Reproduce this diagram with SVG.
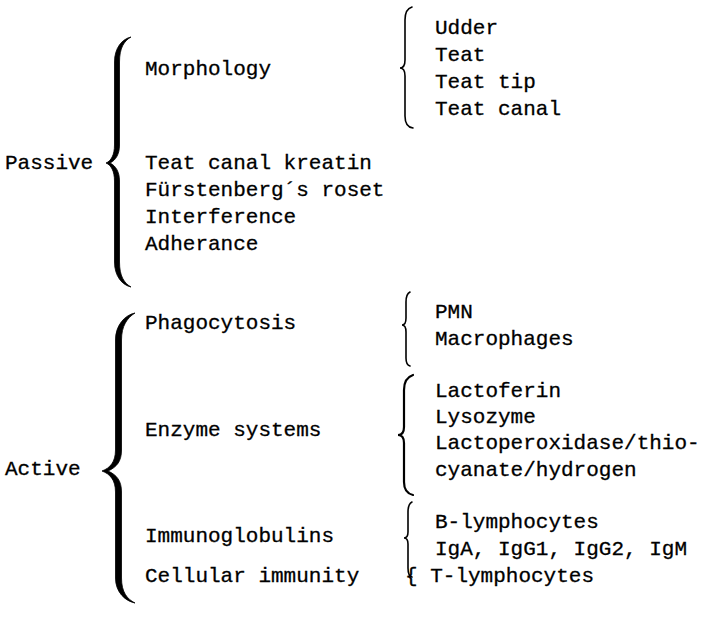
<svg xmlns="http://www.w3.org/2000/svg" width="703" height="624" viewBox="0 0 703 624">
<style>
text{font-family:"Liberation Mono","Courier New",monospace;font-size:21px;fill:#000;stroke:#000;stroke-width:0.3}
.thin{fill:none;stroke:#000;stroke-width:1.6;stroke-linecap:round}
.mid{fill:none;stroke:#000;stroke-width:2.2;stroke-linecap:round}
.thick{fill:#000;stroke:#000;stroke-width:0.8}
</style>
<rect width="703" height="624" fill="#fff"/>
<g id="connectors">
<path class="thick" d="M131,37 C122,39 114.5,48 114.5,62 L114.5,145 C114.5,155 111,161 106,163 C111,165 114.5,171 114.5,181 L114.5,262 C114.5,276 122,285 131,287 C124,283 119.5,276 119.5,262 L119.5,181 C119.5,172 116,166 110,163 C116,160 119.5,154 119.5,145 L119.5,62 C119.5,48 124,41 131,37 Z"/>
<path class="thick" d="M135,313 C125,315 115.5,325 115.5,340 L115.5,450 C115.5,462 110,468 102,471 C110,474 115.5,480 115.5,492 L115.5,578 C115.5,592 125,601 135,603 C127,599 121.5,592 121.5,578 L121.5,492 C121.5,481 117,475 108,471 C117,467 121.5,461 121.5,450 L121.5,340 C121.5,326 127,318 135,313 Z"/>
<path class="thin" d="M412,7 Q405,9 405,20 L405,60 Q405,68 400,68 Q405,68 405,76 L405,116 Q405,127 413,128"/>
<path class="thin" d="M410,292 Q406,294 406,302 L406,318 Q406,325 402,325 Q406,325 406,332 L406,358 Q406,365 410,366"/>
<path class="mid" d="M413,375 Q404,378 404,390 L404,427 Q404,435 398,435 Q404,435 404,443 L404,482 Q404,493 413,495"/>
<path class="thin" d="M412,502 Q408,504 408,512 L408,532 Q408,538 404,538 Q408,538 408,544 L408,568 Q408,576 412,577"/>
</g>
<g id="passive"><text x="5" y="169">Passive</text></g>
<g id="morphology"><text x="145" y="75">Morphology</text></g>
<g id="morphology-items">
<text x="435" y="34">Udder</text>
<text x="435" y="61">Teat</text>
<text x="435" y="88">Teat tip</text>
<text x="435" y="115">Teat canal</text>
</g>
<g id="passive-items">
<text x="145" y="169">Teat canal kreatin</text>
<text x="145" y="196">Fürstenberg´s roset</text>
<text x="145" y="223">Interference</text>
<text x="145" y="250">Adherance</text>
</g>
<g id="active"><text x="5" y="475">Active</text></g>
<g id="phagocytosis"><text x="145" y="329">Phagocytosis</text></g>
<g id="phagocytosis-items">
<text x="435" y="318">PMN</text>
<text x="435" y="345">Macrophages</text>
</g>
<g id="enzyme"><text x="145" y="436">Enzyme systems</text></g>
<g id="enzyme-items">
<text x="435" y="397">Lactoferin</text>
<text x="435" y="423">Lysozyme</text>
<text x="435" y="449">Lactoperoxidase/thio-</text>
<text x="435" y="476">cyanate/hydrogen</text>
</g>
<g id="immunoglobulins"><text x="145" y="542">Immunoglobulins</text></g>
<g id="immunoglobulin-items">
<text x="435" y="528">B-lymphocytes</text>
<text x="435" y="555">IgA, IgG1, IgG2, IgM</text>
</g>
<g id="cellular"><text x="145" y="582">Cellular immunity</text></g>
<g id="cellular-items"><text x="405" y="582">{ T-lymphocytes</text></g>
</svg>
